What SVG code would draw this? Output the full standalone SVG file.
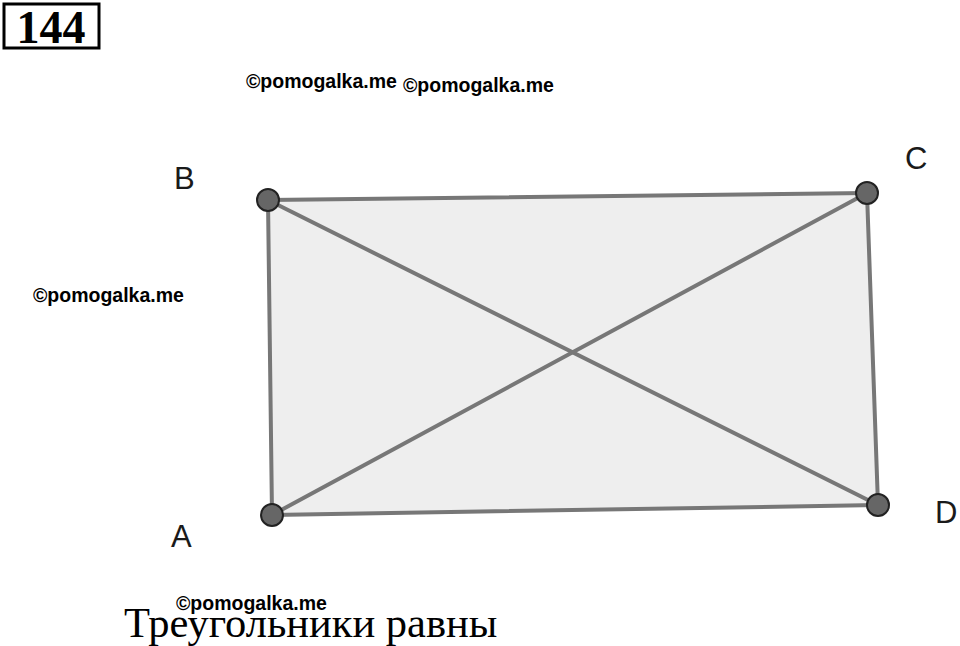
<svg xmlns="http://www.w3.org/2000/svg" width="960" height="646" viewBox="0 0 960 646">
<style>
.wm{font-family:"Liberation Sans",Arial,sans-serif;font-weight:bold;font-size:19.5px;fill:#000}
.lbl{font-family:"Liberation Sans",Arial,sans-serif;font-size:31px;fill:#1a1a1a}
.edge{stroke:#777;stroke-width:4;fill:none;stroke-linecap:round}
.pt{fill:#666;stroke:#222;stroke-width:2}
</style>
<rect width="960" height="646" fill="#fff"/>
<g id="title">
<rect x="4" y="4" width="95" height="44" fill="#fff" stroke="#000" stroke-width="3"/>
<text x="51" y="43" text-anchor="middle" font-family="Liberation Serif,serif" font-weight="bold" font-size="46">144</text>
</g>
<g id="shape">
<polygon points="268,200 867,193 878,505 272,515" fill="#eeeeee" stroke="none"/>
</g>
<g id="connectors">
<line class="edge" x1="268" y1="200" x2="867" y2="193"/>
<line class="edge" x1="867" y1="193" x2="878" y2="505"/>
<line class="edge" x1="878" y1="505" x2="272" y2="515"/>
<line class="edge" x1="272" y1="515" x2="268" y2="200"/>
<line class="edge" x1="268" y1="200" x2="878" y2="505"/>
<line class="edge" x1="272" y1="515" x2="867" y2="193"/>
</g>
<g id="B"><circle class="pt" cx="268" cy="200" r="11"/><text class="lbl" x="174" y="189">B</text></g>
<g id="C"><circle class="pt" cx="867" cy="193" r="11"/><text class="lbl" x="905" y="169">C</text></g>
<g id="A"><circle class="pt" cx="272" cy="515" r="11"/><text class="lbl" x="171" y="547">A</text></g>
<g id="D"><circle class="pt" cx="878" cy="505" r="11"/><text class="lbl" x="935" y="523">D</text></g>
<g id="watermarks">
<text class="wm" x="246" y="88">©pomogalka.me</text>
<text class="wm" x="403" y="92">©pomogalka.me</text>
<text class="wm" x="33" y="302">©pomogalka.me</text>
<text class="wm" x="176" y="610">©pomogalka.me</text>
</g>
<text x="124" y="637" font-family="Liberation Serif,serif" font-size="42.5" fill="#000">Треугольники равны</text>
</svg>
